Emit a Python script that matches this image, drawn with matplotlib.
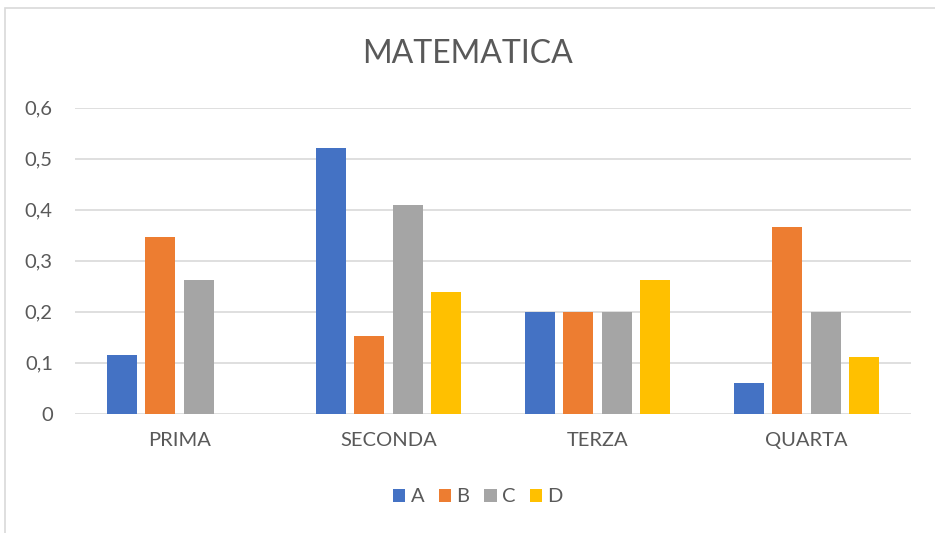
import matplotlib.pyplot as plt
import matplotlib.patches as patches
import numpy as np
from matplotlib.ticker import FuncFormatter

plt.rcParams['font.family'] = ['Lato', 'DejaVu Sans']

# data
categories = ["PRIMA", "SECONDA", "TERZA", "QUARTA"]
series_names = ["A", "B", "C", "D"]
values_a = [0.115, 0.521, 0.2, 0.061]
values_b = [0.346, 0.153, 0.2, 0.367]
values_c = [0.262, 0.409, 0.2, 0.2]
values_d = [0.0, 0.239, 0.262, 0.111]
colors = ["#4472C4", "#ED7D31", "#A5A5A5", "#FFC000"]
text_color = "#595959"
grid_color = "#D9D9D9"

fig = plt.figure(figsize=(9.35, 5.33), dpi=100)
ax = fig.add_axes([75 / 935, 1 - 413.7 / 533, (911 - 75) / 935, (413.7 - 107.7) / 533])

# outer chart frame
fig.patches.append(patches.Rectangle((5 / 935, -0.01), 1.2, 1 - 8 / 533 + 0.01,
                                     transform=fig.transFigure, fill=False,
                                     edgecolor=grid_color, linewidth=1.2))

x = np.arange(len(categories))
step = 0.182
width = 0.1435
all_values = [values_a, values_b, values_c, values_d]
for i, (name, vals) in enumerate(zip(series_names, all_values)):
    offs = (i - 1.5) * step
    ax.bar(x + offs, vals, width=width, color=colors[i], label=name, zorder=3)

ax.set_xlim(-0.5, len(categories) - 0.5)
ax.set_ylim(0, 0.6)
ax.set_yticks(np.arange(0, 0.61, 0.1))
ax.yaxis.set_major_formatter(FuncFormatter(
    lambda v, _: "0" if abs(v) < 1e-9 else f"{v:.1f}".replace(".", ",")))
ax.set_xticks(x)
ax.set_xticklabels(categories)
ax.grid(axis="y", color=grid_color, linewidth=1.2, zorder=0)
for s in ax.spines.values():
    s.set_visible(False)
ax.tick_params(axis="both", length=0, colors=text_color, labelsize=14.5)
ax.tick_params(axis="x", pad=13)
ax.tick_params(axis="y", pad=16)

fig.text(0.5, 1 - 54 / 533, "MATEMATICA", ha="center", va="center",
         fontsize=23, color=text_color)

leg = fig.legend(loc="center", bbox_to_anchor=(478 / 935, 1 - 497 / 533), ncol=4,
                 frameon=False, fontsize=14.5, handlelength=0.6, handleheight=0.6,
                 handletextpad=0.25, columnspacing=0.75)
for t in leg.get_texts():
    t.set_color(text_color)

fig.savefig("out.png", dpi=100)
